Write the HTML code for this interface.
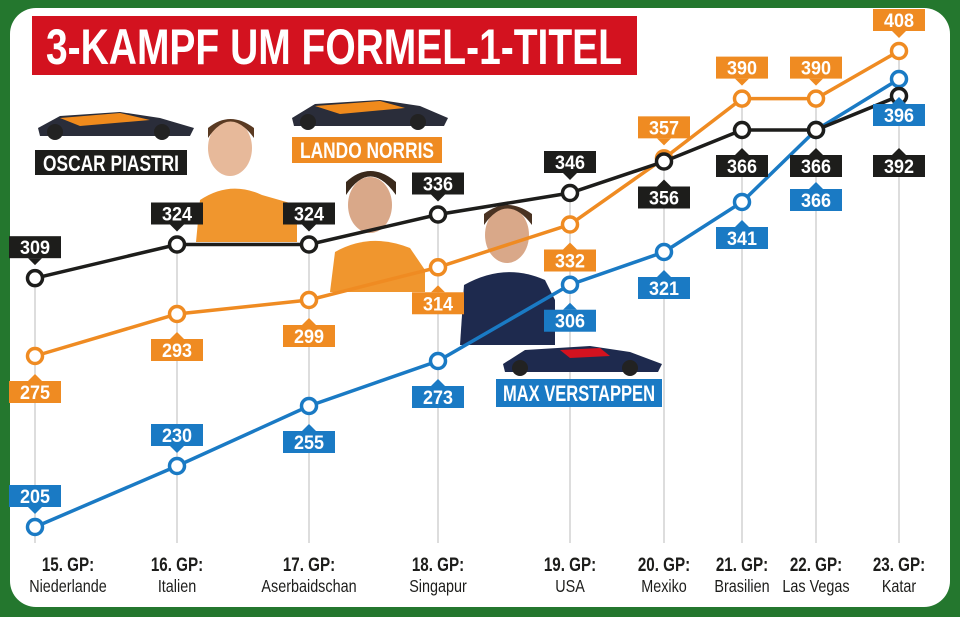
<!DOCTYPE html>
<html><head><meta charset="utf-8"><style>
html,body{margin:0;padding:0;background:#24772e;width:960px;height:617px;overflow:hidden}
svg{display:block}
text{font-family:"Liberation Sans Narrow","Liberation Sans",sans-serif}
</style></head><body>
<svg id="c" width="960" height="617" viewBox="0 0 960 617">
<rect x="0" y="0" width="960" height="617" fill="#24772e"/>
<rect x="10" y="8" width="940" height="599" rx="26" fill="#fff"/>
<rect x="32" y="16" width="605" height="59" fill="#d3121f"/>
<text x="46" y="64" font-size="50" font-weight="bold" fill="#fff" textLength="576" lengthAdjust="spacingAndGlyphs">3-KAMPF UM FORMEL-1-TITEL</text>
<g id="grid"></g>
<g id="deco">
 <g><path d="M38 128 L60 116 L120 112 L160 118 L194 128 L190 136 L40 136 Z" fill="#2a2d3a"/><path d="M60 118 L120 113 L150 120 L80 126 Z" fill="#f08a1c"/><circle cx="55" cy="132" r="8" fill="#222"/><circle cx="162" cy="132" r="8" fill="#222"/></g>
 <g><ellipse cx="230" cy="148" rx="22" ry="28" fill="#e7b99a"/><path d="M208 138 Q230 105 254 138 L254 128 Q230 110 208 128Z" fill="#5a3a22"/><path d="M196 242 L200 200 Q230 180 262 195 L297 205 L297 242 Z" fill="#f0962e"/></g>
 <g><path d="M292 118 L315 104 L380 100 L420 106 L448 118 L444 126 L294 126 Z" fill="#2a2d3a"/><path d="M315 106 L380 101 L405 108 L340 114 Z" fill="#f08a1c"/><circle cx="308" cy="122" r="8" fill="#222"/><circle cx="418" cy="122" r="8" fill="#222"/></g>
 <g><ellipse cx="370" cy="205" rx="22" ry="28" fill="#d9a889"/><path d="M346 195 Q370 158 396 195 L396 182 Q370 160 346 182Z" fill="#3a2a1c"/><path d="M330 292 L335 252 Q370 232 410 248 L425 270 L425 292 Z" fill="#f0962e"/></g>
 <g><ellipse cx="507" cy="235" rx="22" ry="28" fill="#d9a889"/><path d="M484 225 Q507 192 532 225 L532 214 Q507 196 484 214Z" fill="#4a3322"/><path d="M460 345 L464 285 Q505 262 545 280 L555 300 L555 345 Z" fill="#1e2a4e"/></g>
 <g><path d="M503 364 L525 350 L590 346 L630 352 L662 364 L658 372 L505 372 Z" fill="#1e2a4e"/><path d="M560 350 L600 348 L610 356 L570 358Z" fill="#d3121f"/><circle cx="520" cy="368" r="8" fill="#222"/><circle cx="630" cy="368" r="8" fill="#222"/></g>
</g>
<g id="lines"></g>
<g id="labels"></g>
<g id="names">
 <rect x="35" y="150" width="152" height="25" fill="#1d1d1b"/>
 <text x="43" y="171" font-size="22" font-weight="bold" fill="#fff" textLength="136" lengthAdjust="spacingAndGlyphs">OSCAR PIASTRI</text>
 <rect x="292" y="137" width="150" height="26" fill="#ef8b22"/>
 <text x="300" y="158" font-size="22" font-weight="bold" fill="#fff" textLength="134" lengthAdjust="spacingAndGlyphs">LANDO NORRIS</text>
 <rect x="496" y="379" width="166" height="28" fill="#1a7ac4"/>
 <text x="503" y="401" font-size="22" font-weight="bold" fill="#fff" textLength="152" lengthAdjust="spacingAndGlyphs">MAX VERSTAPPEN</text>
</g>
<g id="xaxis"></g>
</svg>
<script>
const races = ["15. GP:","16. GP:","17. GP:","18. GP:","19. GP:","20. GP:","21. GP:","22. GP:","23. GP:"];
const venues = ["Niederlande","Italien","Aserbaidschan","Singapur","USA","Mexiko","Brasilien","Las Vegas","Katar"];
const piastri = [309,324,324,336,346,356,366,366,392];
const norris = [275,293,299,314,332,357,390,390,408];
const verstappen = [205,230,255,273,306,321,341,366,396];
const piastriLabelBelow = [0,0,0,0,0,1,1,1,1];
const norrisLabelBelow = [1,1,1,1,1,0,0,0,0];
const verstappenLabelBelow = [0,0,1,1,1,1,1,1,1];

// layout (not data): category x slots and non-linear y scale stops
const xSlots = [35,177,309,438,570,664,742,816,899];
const yDom = [205,230,255,275,299,321,341,346,366,392,396,408];
const yRng = [527,466,406,356,300,252,202,193,130,96,79,51];
function x(i){return xSlots[i];}
function y(v){
  if(v<=yDom[0]) return yRng[0]+(v-yDom[0])*(yRng[1]-yRng[0])/(yDom[1]-yDom[0]);
  for(let k=0;k<yDom.length-1;k++){
    if(v<=yDom[k+1]) return yRng[k]+(v-yDom[k])*(yRng[k+1]-yRng[k])/(yDom[k+1]-yDom[k]);
  }
  const n=yDom.length-1;
  return yRng[n]+(v-yDom[n])*(yRng[n]-yRng[n-1])/(yDom[n]-yDom[n-1]);
}
const NS="http://www.w3.org/2000/svg";
function mk(tag,attrs,parent){const e=document.createElementNS(NS,tag);for(const k in attrs)e.setAttribute(k,attrs[k]);parent.appendChild(e);return e;}
const grid=document.getElementById('grid'),lines=document.getElementById('lines'),labels=document.getElementById('labels'),xaxis=document.getElementById('xaxis');

races.forEach((r,i)=>{
  const top=Math.min(y(piastri[i]),y(norris[i]),y(verstappen[i]));
  const gl=mk('line',{x1:x(i),x2:x(i),y1:top,y2:543,stroke:'#bbb','stroke-width':1},grid);
  
  
  const cx=i===0?68:x(i);
  const g=mk('g',{transform:'translate('+cx+',0) scale(0.8,1)'},xaxis);
  const t1=mk('text',{x:0,y:571,'text-anchor':'middle','font-size':19,'font-weight':'bold',fill:'#1d1d1b'},g);
  t1.textContent=r;
  
  
  const t2=mk('text',{x:0,y:592,'text-anchor':'middle','font-size':18,fill:'#1d1d1b'},g);
  t2.textContent=venues[i];
  
  
});

const specs=[];
function series(vals,below,color,name,rank){
  const g=mk('g',{},lines);
  
  
  const pl=mk('polyline',{points:vals.map((v,i)=>x(i)+','+y(v)).join(' '),fill:'none',stroke:color,'stroke-width':3.5},g);
  
  
  vals.forEach((v,i)=>{
    const c=mk('circle',{cx:x(i),cy:y(v),r:7.5,fill:'#fff',stroke:color,'stroke-width':3.5},g);
    
    
    specs.push({i:i,v:v,b:below[i],color:color,name:name,rank:rank});
  });
}
series(verstappen,verstappenLabelBelow,'#1a7ac4','verstappen',2);
series(norris,norrisLabelBelow,'#ef8b22','norris',1);
series(piastri,piastriLabelBelow,'#1d1d1b','piastri',0);

specs.sort((a,b)=>(y(a.v)-y(b.v))||(a.rank-b.rank));
const placed=[];
specs.forEach(s=>{
  const i=s.i,px=x(i),py=y(s.v),b=s.b,color=s.color;
  let cy=b?py+36:py-31;
  let guard=0;
  while(guard++<5 && placed.some(p=>p.i===i && Math.abs(p.cy-cy)<31)){ cy += b?34:-34; }
  placed.push({i:i,cy:cy});
  let bx=px-26;
  if(i===0) bx=Math.max(bx,8);
  const lg=mk('g',{},labels);
  
  
  mk('rect',{x:bx,y:cy-11,width:52,height:22,fill:color},lg);
  const ty=b?cy-11:cy+11;
  const tip=b?ty-7:ty+7;
  mk('polygon',{points:(px-7)+','+ty+' '+(px+7)+','+ty+' '+px+','+tip,fill:color},lg);
  const t=mk('text',{x:bx+26,y:cy+7,'text-anchor':'middle','font-size':19,'font-weight':'bold',fill:'#fff',textLength:30,lengthAdjust:'spacingAndGlyphs'},lg);
  t.textContent=s.v;
});
</script>
</body></html>
